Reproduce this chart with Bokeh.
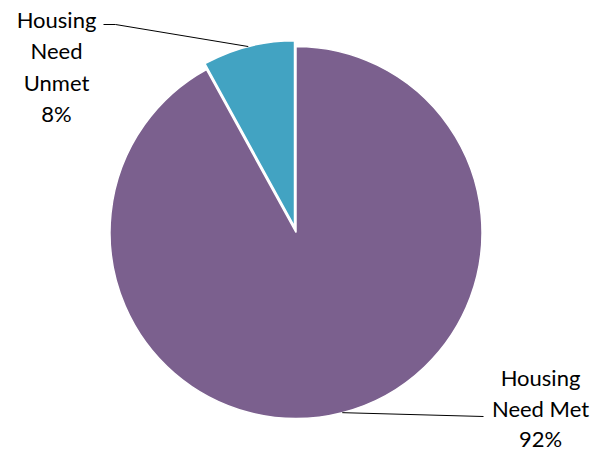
import math
from bokeh.plotting import figure
from bokeh.models import Range1d, ColumnDataSource
from bokeh.core.properties import value
from bokeh.embed import file_html
from bokeh.resources import INLINE

categories = ["Housing Need Unmet", "Housing Need Met"]
values = [8, 92]
colors = ["#42A3C2", "#7B608E"]
label_lines = [["Housing", "Need", "Unmet", "8%"], ["Housing", "Need Met", "92%"]]

W, H = 613, 453
cx, cy, R = 295.5, H - 232, 186
explode = [6, 0]

total = sum(values)
start = math.pi / 2
starts, ends, xs, ys, mids = [], [], [], [], []
for v, ex in zip(values, explode):
    a0 = start
    a1 = start + v / total * 2 * math.pi
    mid = (a0 + a1) / 2
    starts.append(a0); ends.append(a1); mids.append(mid)
    xs.append(cx + ex * math.cos(mid)); ys.append(cy + ex * math.sin(mid))
    start = a1

p = figure(width=W, height=H, x_range=Range1d(0, W), y_range=Range1d(0, H),
           output_backend="svg", toolbar_location=None, min_border=0)
p.axis.visible = False
p.grid.visible = False
p.outline_line_color = None

src = ColumnDataSource(dict(x=xs, y=ys, start=starts, end=ends, color=colors))
p.wedge(x="x", y="y", radius=R, start_angle="start", end_angle="end",
        fill_color="color", line_color="white", line_width=1.5, source=src)

# leader lines
ex0 = xs[0] + R * math.cos(mids[0]); ey0 = ys[0] + R * math.sin(mids[0])
p.line([ex0, 115, 103], [ey0, H - 24, H - 24], line_color="black", line_width=1)
ex1 = xs[1] + R * math.cos(mids[1]); ey1 = ys[1] + R * math.sin(mids[1])
p.line([ex1, 483], [ey1, H - 416], line_color="black", line_width=1)

# labels
lab_pos = [(56, [19, 50, 82, 113]), (540, [377, 408, 438])]
for lines, (lx, lys) in zip(label_lines, lab_pos):
    p.text(x=[lx] * len(lines), y=[H - yy for yy in lys], text=lines,
           text_font=value("Lato"), text_font_size="22px", text_color="black",
           text_align="center", text_baseline="middle")

open("out.html", "w").write(file_html(p, INLINE))
